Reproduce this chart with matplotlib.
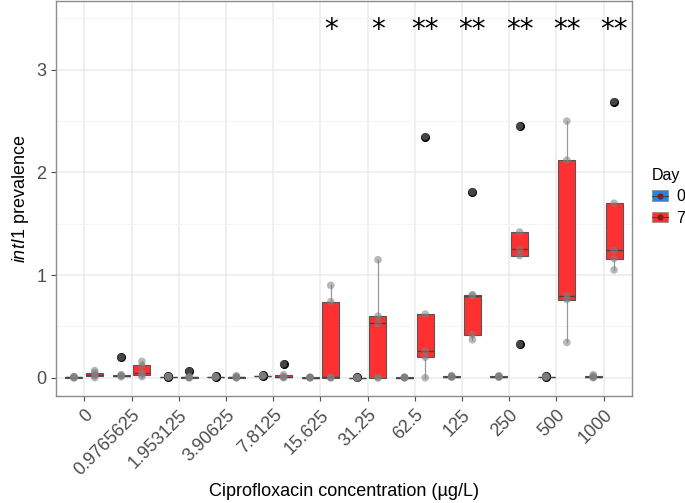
import matplotlib.pyplot as plt
from matplotlib.patches import Patch
from matplotlib.lines import Line2D

plt.rcParams['font.family'] = ['Liberation Sans', 'DejaVu Sans']
plt.rcParams['mathtext.fontset'] = 'custom'
plt.rcParams['mathtext.it'] = 'Liberation Sans:italic'
plt.rcParams['mathtext.rm'] = 'Liberation Sans'

concentrations = ['0', '0.9765625', '1.953125', '3.90625', '7.8125', '15.625',
                  '31.25', '62.5', '125', '250', '500', '1000']

day0 = [
    [0.0, 0.0, 0.005, 0.01, 0.01],
    [0.01, 0.02, 0.02, 0.03, 0.20],
    [0.005, 0.01, 0.01, 0.01, 0.015],
    [0.005, 0.01, 0.01, 0.01, 0.015],
    [0.015, 0.02, 0.02, 0.02, 0.025],
    [0.0, 0.0, 0.0, 0.005, 0.005],
    [0.0, 0.0, 0.0, 0.0, 0.005],
    [0.0, 0.0, 0.0, 0.005, 0.005],
    [0.005, 0.01, 0.01, 0.015, 0.02],
    [0.005, 0.01, 0.01, 0.015, 0.02],
    [0.005, 0.01, 0.01, 0.01, 0.015],
    [0.0, 0.005, 0.01, 0.015, 0.03],
]
day7 = [
    [0.0, 0.02, 0.03, 0.05, 0.07],
    [0.01, 0.03, 0.05, 0.12, 0.16],
    [0.0, 0.0, 0.005, 0.01, 0.065],
    [0.0, 0.0, 0.005, 0.01, 0.02],
    [0.0, 0.005, 0.01, 0.03, 0.135],
    [0.0, 0.0, 0.005, 0.74, 0.90],
    [0.0, 0.0, 0.53, 0.60, 1.15],
    [0.0, 0.20, 0.26, 0.62, 2.35],
    [0.37, 0.42, 0.80, 0.81, 1.81],
    [0.325, 1.19, 1.25, 1.42, 2.45],
    [0.344, 0.762, 0.80, 2.12, 2.50],
    [1.05, 1.16, 1.24, 1.70, 2.69],
]
signif = ['', '', '', '', '', '*', '*', '**', '**', '**', '**', '**']

days = ['0', '7']
fills = ['#2384E6', '#FF3030']

fig = plt.figure(figsize=(6.85, 5.03), dpi=100)
ax = fig.add_axes([0.0818, 0.2127, 0.8408, 0.7853])

x = list(range(1, len(concentrations) + 1))
offset = 0.22
for data, d, col in zip([day0, day7], [-1, 1], fills):
    pos = [xi + d * offset for xi in x]
    bp = ax.boxplot(data, positions=pos, widths=0.36, patch_artist=True,
                    whis=1.5, manage_ticks=False, zorder=3,
                    boxprops=dict(facecolor=col, edgecolor='#555555', linewidth=0.8),
                    medianprops=dict(color='#444444', linewidth=1.0),
                    whiskerprops=dict(color='#999999', linewidth=0.9),
                    capprops=dict(linewidth=0),
                    flierprops=dict(marker='o', markerfacecolor='black',
                                    markeredgecolor='black', markersize=5.5))
    for p, vals in zip(pos, data):
        ax.scatter([p] * len(vals), vals, s=30, color='#7f7f7f', alpha=0.55,
                   edgecolors='none', zorder=4)

for xi, s in zip(x, signif):
    if s:
        ax.text(xi + offset, 3.39, s, ha='center', va='center', fontsize=20,
                family='DejaVu Sans')

ax.set_xlim(0.4, 12.6)
ax.set_ylim(-0.178, 3.67)
ax.set_yticks([0, 1, 2, 3])
ax.set_yticks([0.5, 1.5, 2.5, 3.5], minor=True)
ax.set_xticks(x)
ax.set_xticklabels(concentrations, rotation=45, ha='right', rotation_mode='anchor')
ax.tick_params(axis='both', labelsize=13, colors='#4d4d4d', length=3.5)
ax.tick_params(axis='y', which='minor', length=0)
ax.tick_params(axis='x', pad=4)
for lab in ax.get_xticklabels() + ax.get_yticklabels():
    lab.set_color('#4d4d4d')
ax.grid(True, which='major', color='#ebebeb', linewidth=1.1, zorder=0)
ax.grid(True, which='minor', axis='y', color='#f3f3f3', linewidth=0.6, zorder=0)
ax.set_axisbelow(True)
for sp in ax.spines.values():
    sp.set_color('#8c8c8c')
    sp.set_linewidth(1.0)

ax.set_xlabel('Ciprofloxacin concentration (µg/L)', fontsize=13, labelpad=3)
ax.set_ylabel(r'$\mathit{intI1}$ prevalence', fontsize=13)

handles = []
for col in fills:
    handles.append((Patch(facecolor=col, edgecolor='#888888', linewidth=0.5),
                    Line2D([], [], color='#444444', marker='o', markersize=4.5,
                           markerfacecolor='#7f1f1f', markeredgecolor='none', linewidth=0.8)))
leg = fig.legend(handles, days, title='Day', loc='upper left',
                 bbox_to_anchor=(652 / 685, 1 - 168 / 503), frameon=False, fontsize=11.5,
                 title_fontsize=11.5, handlelength=1.0, handleheight=0.65,
                 handletextpad=0.5, labelspacing=0.4, borderpad=0, borderaxespad=0)
leg._legend_box.align = 'left'

fig.savefig('out.png', dpi=100)
